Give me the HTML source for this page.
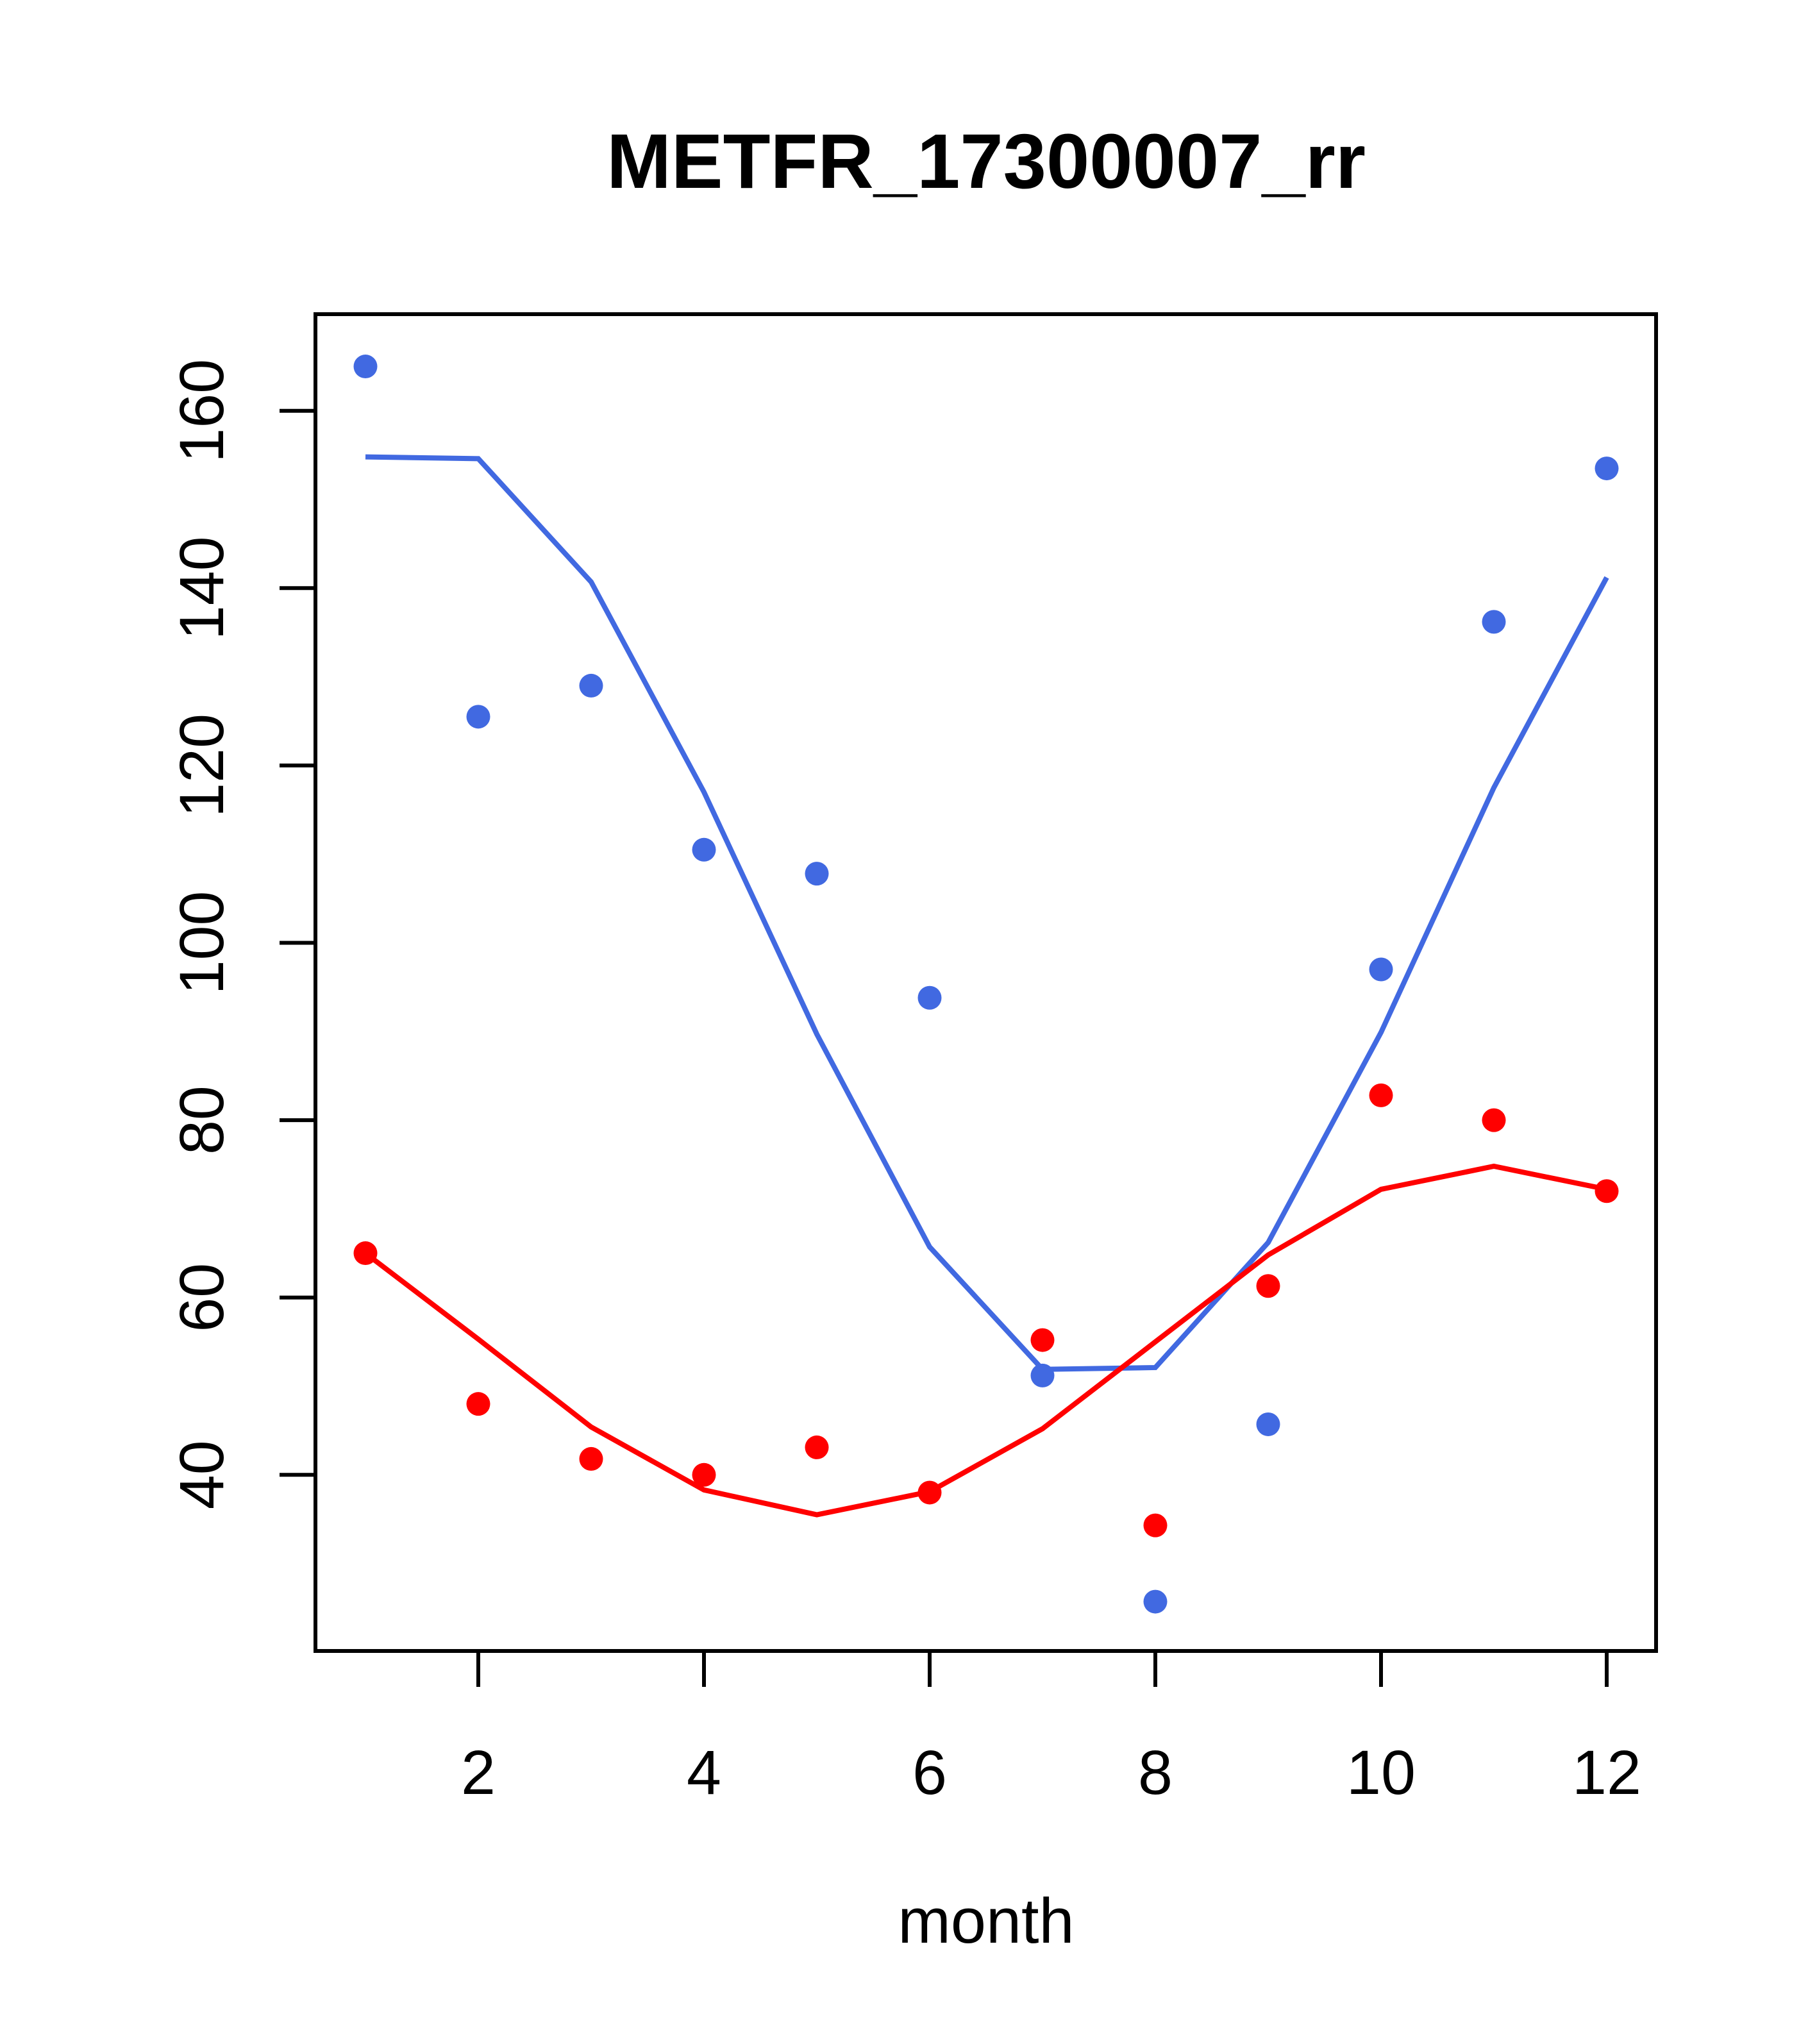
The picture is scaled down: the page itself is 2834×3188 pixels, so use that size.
<!DOCTYPE html>
<html><head><meta charset="utf-8"><style>html,body{margin:0;padding:0;background:#fff}svg{display:block}</style></head>
<body>
<svg id="chart" width="2834" height="3188" viewBox="0 0 2834 3188" xmlns="http://www.w3.org/2000/svg" font-family="Liberation Sans, sans-serif">
<text x="1538" y="293" font-size="121" font-weight="bold" text-anchor="middle">METFR_17300007_rr</text>
<rect x="492" y="490" width="2091" height="2085" fill="none" stroke="#000" stroke-width="6"/>
<g id="axes"></g>
<g id="series"></g>
<text x="1538" y="3030" font-size="99" text-anchor="middle">month</text>
</svg>
<script>
const months=[1,2,3,4,5,6,7,8,9,10,11,12];
const bluePoints=[165,125.5,129,110.5,107.8,93.8,51.2,25.7,45.7,97,136.2,153.5];
const blueLine=[154.8,154.6,140.7,117,89.7,65.7,51.9,52.1,66.2,89.9,117.5,141.2];
const redPoints=[65,48,41.8,40,43.1,38,55.2,34.3,61.3,82.8,80,72];
const redLine=[65,55.3,45.4,38.3,35.5,38.1,45.2,55,64.8,72.2,74.8,72.2];
const xTicks=[2,4,6,8,10,12];
const yTicks=[40,60,80,100,120,140,160];
const NS='http://www.w3.org/2000/svg';
function xs(m){return 746+(m-2)*176;}
function ys(v){return 640.7-(v-160)*13.83;}
const axes=document.getElementById('axes'), ser=document.getElementById('series');
function mk(t,a,p){const e=document.createElementNS(NS,t);for(const k in a)e.setAttribute(k,a[k]);p.appendChild(e);return e;}
xTicks.forEach(t=>{
  const l=mk('line',{x1:xs(t),x2:xs(t),y1:2575,y2:2631,stroke:'#000','stroke-width':6},axes);
  
  
  const tx=mk('text',{x:xs(t),y:2798,'font-size':97,'text-anchor':'middle'},axes);
  tx.textContent=t;
  
  
});
yTicks.forEach(t=>{
  const y=ys(t);
  const l=mk('line',{x1:436,x2:492,y1:y,y2:y,stroke:'#000','stroke-width':6},axes);
  
  
  const tx=mk('text',{x:348,y:y,'font-size':97,'text-anchor':'middle',transform:'rotate(-90 348 '+y+')'},axes);
  tx.textContent=t;
  
  
});
function line(vals,col,name){
  const p=mk('polyline',{points:months.map((m,i)=>xs(m)+','+ys(vals[i])).join(' '),fill:'none',stroke:col,'stroke-width':8},ser);
  
  
}
function pts(vals,col,name){
  vals.forEach((v,i)=>{
    const c=mk('circle',{cx:xs(months[i]),cy:ys(v),r:18.5,fill:col},ser);
    
    
  });
}
line(blueLine,'#4169E1','blue-line');
line(redLine,'#FF0000','red-line');
pts(bluePoints,'#4169E1','blue-point');
pts(redPoints,'#FF0000','red-point');
</script>
</body></html>
